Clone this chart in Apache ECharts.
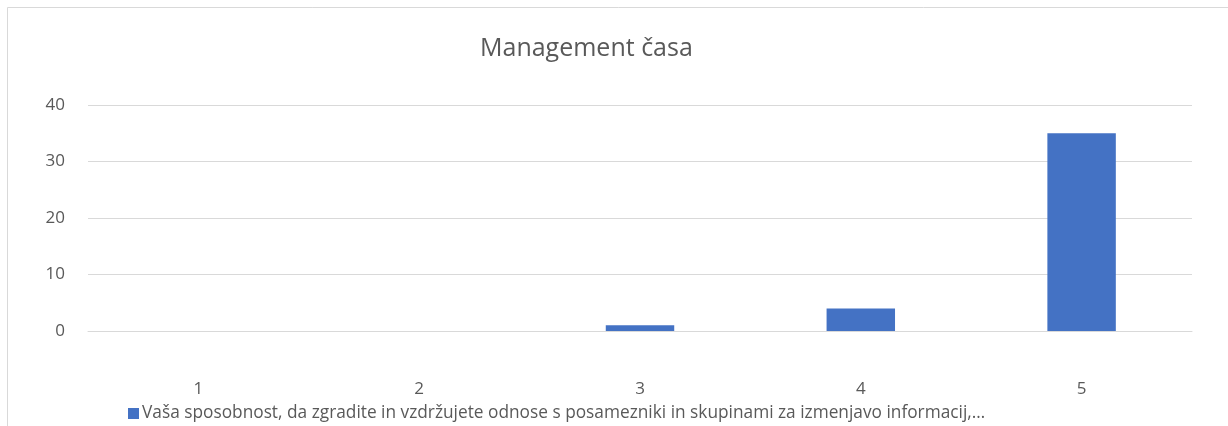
<!DOCTYPE html>
<html>
<head>
<meta charset="utf-8">
<script src="https://cdn.jsdelivr.net/npm/echarts@6/dist/echarts.min.js"></script>
<style>
  html, body { margin: 0; padding: 0; background: #fff; }
  #chart { width: 1228px; height: 426px; }
</style>
</head>
<body>
<div id="chart"></div>
<script>
// podatki
var categories = ['1', '2', '3', '4', '5'];
var seriesName = 'Vaša sposobnost, da zgradite in vzdržujete odnose s posamezniki in skupinami za izmenjavo informacij,…';
var values = [0, 0, 1, 4, 35];
var yTicks = { min: 0, max: 40, interval: 10 };

var chart = echarts.init(document.getElementById('chart'));
var txt = '#595959';
var font = 'Open Sans';

var option = {
  animation: false,
  backgroundColor: '#fff',
  graphic: [{
    type: 'rect',
    shape: { x: 7.5, y: 7.5, width: 1240, height: 440 },
    style: { fill: 'none', stroke: '#d9d9d9', lineWidth: 1 },
    silent: true
  }],
  title: {
    text: 'Management časa',
    left: 475,
    top: 31,
    textStyle: { color: txt, fontFamily: font, fontSize: 25, fontWeight: 'normal' }
  },
  legend: {
    left: 123,
    top: 400,
    itemWidth: 11,
    itemHeight: 11,
    itemGap: 5,
    icon: 'rect',
    data: [seriesName],
    textStyle: { color: txt, fontFamily: font, fontSize: 17.3, padding: [0, 0, 0, -2] }
  },
  grid: { left: 88, right: 36, top: 105, bottom: 95 },
  xAxis: {
    type: 'category',
    data: categories,
    axisLine: { show: true, lineStyle: { color: '#d9d9d9', width: 1 } },
    axisTick: { show: false },
    axisLabel: { color: txt, fontFamily: font, fontSize: 17, margin: 50 }
  },
  yAxis: {
    type: 'value',
    min: yTicks.min,
    max: yTicks.max,
    interval: yTicks.interval,
    axisLine: { show: false },
    axisTick: { show: false },
    splitLine: { lineStyle: { color: '#d9d9d9', width: 1 } },
    axisLabel: { color: txt, fontFamily: font, fontSize: 17, margin: 23 }
  },
  series: [{
    name: seriesName,
    type: 'bar',
    data: values,
    barWidth: '31%',
    itemStyle: { color: '#4472c4' }
  }]
};

chart.setOption(option);
</script>
</body>
</html>
